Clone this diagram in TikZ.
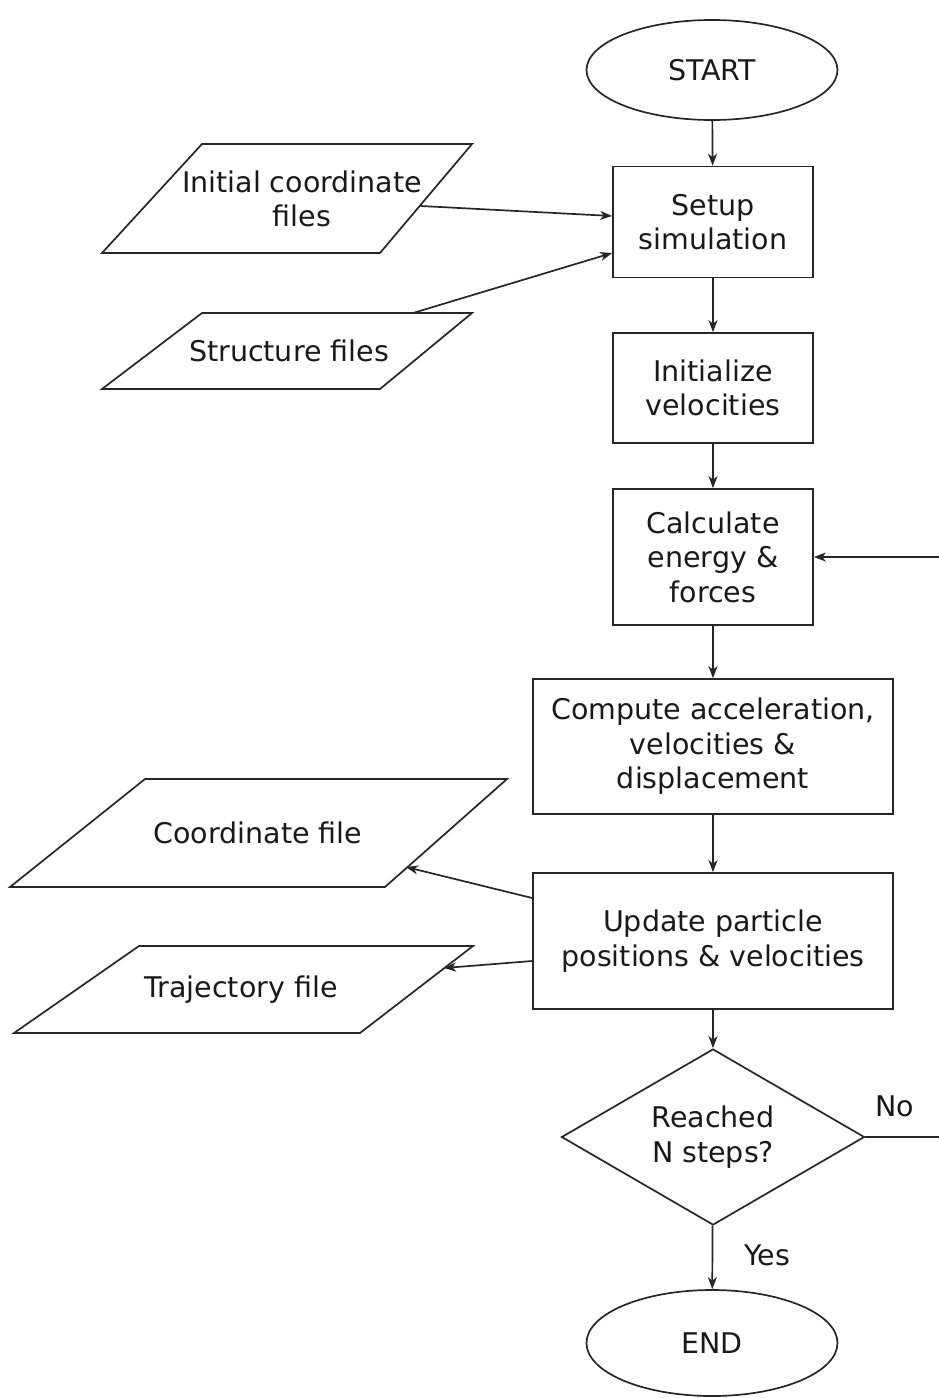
\documentclass[tikz,border=0pt]{standalone}
\usepackage{fontspec}
\setmainfont{DejaVu Sans}
\usetikzlibrary{shapes.geometric,arrows.meta}
\begin{document}
\begin{tikzpicture}[x=1pt,y=-1pt,
  every node/.style={font=\fontsize{28.5}{34.5}\selectfont, align=center, text=black!90, inner sep=0pt},
  line/.style={line width=1.7pt, draw=black!85},
  arr/.style={line, -{Stealth[length=12pt,width=9pt,inset=3.5pt]}},
  proc/.style={rectangle, line},
  term/.style={ellipse, line, minimum width=251pt},
  dec/.style={diamond, line, aspect=1.72, minimum width=303pt, minimum height=176pt}]
\useasboundingbox (0,0) rectangle (938,1398);

\node[term, minimum height=100pt] (start) at (712,70) {START};
\node[proc, minimum width=200pt, minimum height=111pt] (setup) at (713,222) {Setup\\simulation};
\node[proc, minimum width=200pt, minimum height=110pt] (init) at (713,388) {Initialize\\velocities};
\node[proc, minimum width=200pt, minimum height=136pt] (calc) at (713,557) {Calculate\\energy \&\\forces};
\node[proc, minimum width=360pt, minimum height=135pt] (comp) at (713,746.5) {Compute acceleration,\\velocities \&\\displacement};
\node[proc, minimum width=360pt, minimum height=136pt] (upd) at (713,941) {Update particle\\positions \& velocities};
\node[dec] (dec) at (713,1137) {Reached\\N steps?};
\node[term, minimum height=106pt] (end) at (712,1343) {END};

% input / output parallelograms
\draw[line] (202,144) -- (472,144) -- (380,253) -- (102,253) -- cycle;
\node (icf) at (302,199) {Initial coordinate\\files};
\draw[line] (202,313) -- (472,313) -- (380,389) -- (102,389) -- cycle;
\node (sf) at (289,351) {Structure files};
\draw[line] (145,779) -- (507,779) -- (385,887) -- (10,887) -- cycle;
\node (cf) at (258,833) {Coordinate file};
\draw[line] (139,946) -- (473,946) -- (360,1033) -- (14,1033) -- cycle;
\node (tf) at (241,990) {Trajectory file};

\coordinate (icfE) at (421,206);
\coordinate (sfE) at (413,313);
\coordinate (cfE) at (406,867);
\coordinate (tfE) at (444,968);

\draw[arr] (start) -- (setup);
\draw[arr] (setup) -- (init);
\draw[arr] (init) -- (calc);
\draw[arr] (calc) -- (comp);
\draw[arr] (comp) -- (upd);
\draw[arr] (upd) -- (dec);
\draw[arr] (dec) -- (end);
\node (yes) at (767,1255) {Yes};

\draw[arr] (icfE) -- (setup.west |- 0,216);
\draw[arr] (sfE) -- (setup.west |- 0,253);
\draw[arr] (upd.west |- 0,898) -- (cfE);
\draw[arr] (upd.west |- 0,961) -- (tfE);

\draw[arr] (dec.east) -- ++(80,0) coordinate (loopR) |- (calc.east);
\node (no) at (895,1106) {No};
\end{tikzpicture}
\end{document}
